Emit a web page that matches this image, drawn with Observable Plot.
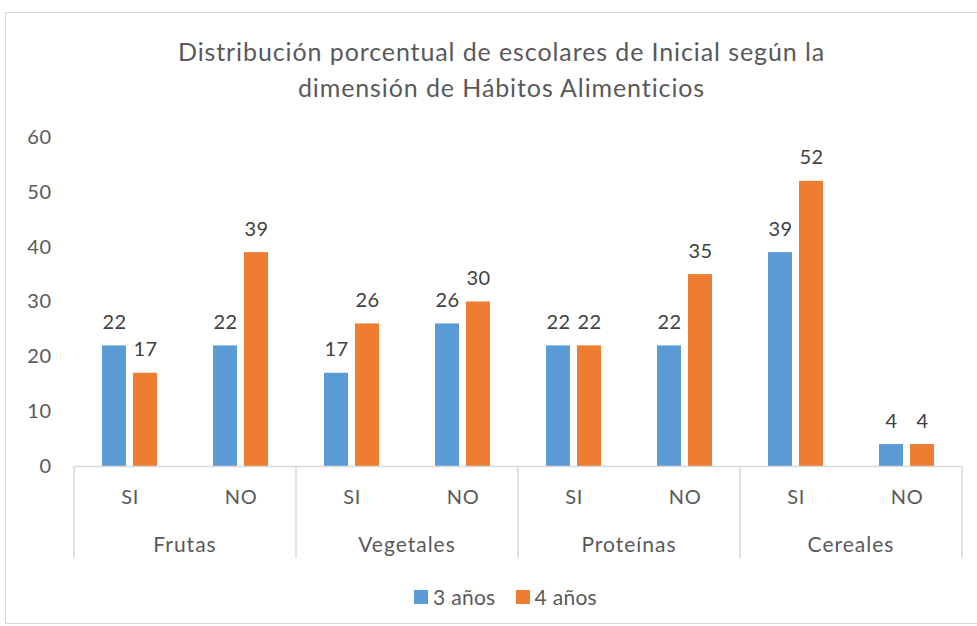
<!DOCTYPE html>
<html>
<head>
<meta charset="utf-8">
<script src="https://cdn.jsdelivr.net/npm/d3@7"></script>
<script src="https://cdn.jsdelivr.net/npm/@observablehq/plot@0.6"></script>
<style>
  body { margin: 0; background: #fff; font-family: Lato, sans-serif; }
  #frame { position: absolute; left: 5px; top: 12px; width: 985px; height: 612px; border: 1px solid #d9d9d9; box-sizing: border-box; }
  #title { position: absolute; left: 0; top: 33px; width: 1003px; text-align: center; font-size: 25px; letter-spacing: 0.9px; line-height: 36px; color: #595959; }
  #chart { position: absolute; left: 0; top: 120px; }
  #legend { position: absolute; left: 0; top: 584px; width: 1011px; display: flex; justify-content: center; align-items: center; font-size: 21px; letter-spacing: 0.3px; color: #595959; }
  .sw { width: 14px; height: 14px; display: inline-block; margin-right: 5px; }
  .item { display: flex; align-items: center; margin: 0 10px; }
</style>
</head>
<body>
<div id="frame"></div>
<div id="title">Distribución porcentual de escolares de Inicial según la<br>dimensión de Hábitos Alimenticios</div>
<div id="chart"></div>
<div id="legend"></div>
<script>
const groups = ["Frutas", "Vegetales", "Proteínas", "Cereales"];
const subs = ["SI", "NO"];
const series = ["3 años", "4 años"];
const values3 = [22, 22, 17, 26, 22, 22, 39, 4];
const values4 = [17, 39, 26, 30, 22, 35, 52, 4];
const yTicks = [0, 10, 20, 30, 40, 50, 60];
const colors = ["#5B9BD5", "#ED7D31"];

const keys = [];
groups.forEach(g => subs.forEach(s => keys.push(g + "|" + s)));
const rows = [];
keys.forEach((k, i) => {
  rows.push({key: k, serie: series[0], value: values3[i]});
  rows.push({key: k, serie: series[1], value: values4[i]});
});

const chart = Plot.plot({
  width: 977,
  height: 446,
  marginTop: 17,
  marginLeft: 73,
  marginRight: 14,
  marginBottom: 100,
  style: {fontFamily: "Lato, sans-serif", fontSize: "20px", color: "#595959", background: "transparent", letterSpacing: "0.5px"},
  fx: {domain: keys, padding: 0, label: null, axis: "bottom", tickSize: 0, tickPadding: 23, tickFormat: d => d.split("|")[1]},
  x: {domain: series, paddingInner: 0.22, paddingOuter: 0.85, axis: null},
  y: {domain: [0, 60], ticks: yTicks, tickSize: 0, tickPadding: 23, label: null},
  color: {domain: series, range: colors},
  marks: [
    Plot.barY(rows, {fx: "key", x: "serie", y: "value", fill: "serie"}),
    Plot.ruleY([0], {stroke: "#d9d9d9", strokeWidth: 1.5}),
    Plot.text(rows, {fx: "key", x: "serie", y: "value", text: d => String(d.value), lineAnchor: "bottom", dy: -17, fill: "#404040", fontSize: 20})
  ]
});
document.getElementById("chart").appendChild(chart);

// group separators and group labels, positioned with Plot's own scales
const fx = chart.scale("fx");
const y = chart.scale("y");
const svg = d3.select(chart);
const y0 = y.apply(0);
const edges = groups.map(g => fx.apply(g + "|SI"));
edges.push(fx.apply(keys[keys.length - 1]) + fx.bandwidth);
svg.append("g").selectAll("line").data(edges).join("line")
  .attr("x1", d => d).attr("x2", d => d)
  .attr("y1", y0).attr("y2", y0 + 92)
  .attr("stroke", "#d9d9d9").attr("stroke-width", 1.5);
svg.append("g").selectAll("text").data(groups).join("text")
  .attr("x", g => fx.apply(g + "|NO"))
  .attr("y", y0 + 79)
  .attr("text-anchor", "middle")
  .attr("dy", "0.35em")
  .attr("fill", "#595959")
  .attr("font-size", 21)
  .attr("letter-spacing", "1px")
  .text(g => g);

// legend
const legend = d3.select("#legend");
series.forEach((s, i) => {
  const it = legend.append("div").attr("class", "item");
  it.append("span").attr("class", "sw").style("background", colors[i]);
  it.append("span").text(s);
});
</script>
</body>
</html>
